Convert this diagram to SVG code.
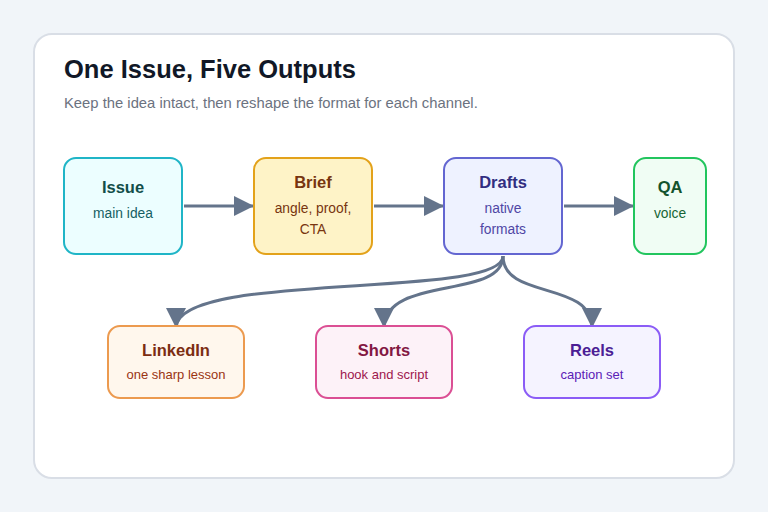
<svg xmlns="http://www.w3.org/2000/svg" width="768" height="512" viewBox="0 0 768 512">
<style>
.t{font-family:"Liberation Sans",Arial,sans-serif;font-weight:bold;font-size:16.5px;text-anchor:middle}
.s{font-family:"Liberation Sans",Arial,sans-serif;font-size:13.8px;text-anchor:middle}
.b{font-family:"Liberation Sans",Arial,sans-serif;font-size:13px;text-anchor:middle}
.c{fill:none;stroke:#64748b;stroke-width:3}
</style>
<defs>
<marker id="h" viewBox="0 0 10 10" refX="10" refY="5" markerWidth="20" markerHeight="20" markerUnits="userSpaceOnUse" orient="auto"><path d="M0,0L10,5L0,10z" fill="#64748b"/></marker>
</defs>
<rect width="768" height="512" fill="#f1f5f9"/>
<rect x="34" y="34" width="700" height="444" rx="18" fill="#ffffff" stroke="#d9dee6" stroke-width="2"/>
<text x="64" y="78" font-family="Liberation Sans,Arial,sans-serif" font-weight="bold" font-size="25.5" fill="#111827">One Issue, Five Outputs</text>
<text x="64" y="108" font-family="Liberation Sans,Arial,sans-serif" font-size="14.8" fill="#6b7280">Keep the idea intact, then reshape the format for each channel.</text>
<g id="connectors">
<path class="c" d="M184,206H254" marker-end="url(#h)"/>
<path class="c" d="M374,206H444" marker-end="url(#h)"/>
<path class="c" d="M564,206H634" marker-end="url(#h)"/>
<path class="c" d="M503,256C503,300 176,270 176,328" marker-end="url(#h)"/>
<path class="c" d="M503,256C503,300 384,275 384,328" marker-end="url(#h)"/>
<path class="c" d="M503,256C503,300 592,280 592,328" marker-end="url(#h)"/>
</g>
<g id="issue"><rect x="64" y="158" width="118" height="96" rx="12" fill="#ecfeff" stroke="#1fb5c7" stroke-width="2"/>
<text class="t" x="123" y="193" fill="#134e4a">Issue</text><text class="s" x="123" y="218" fill="#155e63">main idea</text></g>
<g id="brief"><rect x="254" y="158" width="118" height="96" rx="12" fill="#fef3c7" stroke="#e3a21a" stroke-width="2"/>
<text class="t" x="313" y="188" fill="#78350f">Brief</text><text class="s" x="313" y="213" fill="#78350f">angle, proof,</text><text class="s" x="313" y="234" fill="#78350f">CTA</text></g>
<g id="drafts"><rect x="444" y="158" width="118" height="96" rx="12" fill="#eef2ff" stroke="#6366d1" stroke-width="2"/>
<text class="t" x="503" y="188" fill="#312e81">Drafts</text><text class="s" x="503" y="213" fill="#4f46a5">native</text><text class="s" x="503" y="234" fill="#4f46a5">formats</text></g>
<g id="qa"><rect x="634" y="158" width="72" height="96" rx="12" fill="#f0fdf4" stroke="#22c55e" stroke-width="2"/>
<text class="t" x="670" y="193" fill="#14532d">QA</text><text class="s" x="670" y="218" fill="#166534">voice</text></g>
<g id="linkedin"><rect x="108" y="326" width="136" height="72" rx="12" fill="#fff7ed" stroke="#ec9a4f" stroke-width="2"/>
<text class="t" x="176" y="356" font-size="15.5" fill="#7c2d12">LinkedIn</text><text class="b" x="176" y="379" font-size="12.5" fill="#9a3412">one sharp lesson</text></g>
<g id="shorts"><rect x="316" y="326" width="136" height="72" rx="12" fill="#fdf2f8" stroke="#db4f94" stroke-width="2"/>
<text class="t" x="384" y="356" font-size="15.5" fill="#831843">Shorts</text><text class="b" x="384" y="379" font-size="12.5" fill="#9d174d">hook and script</text></g>
<g id="reels"><rect x="524" y="326" width="136" height="72" rx="12" fill="#f5f3ff" stroke="#8b5cf6" stroke-width="2"/>
<text class="t" x="592" y="356" font-size="15.5" fill="#4c1d95">Reels</text><text class="b" x="592" y="379" font-size="12.5" fill="#5b21b6">caption set</text></g>
</svg>
